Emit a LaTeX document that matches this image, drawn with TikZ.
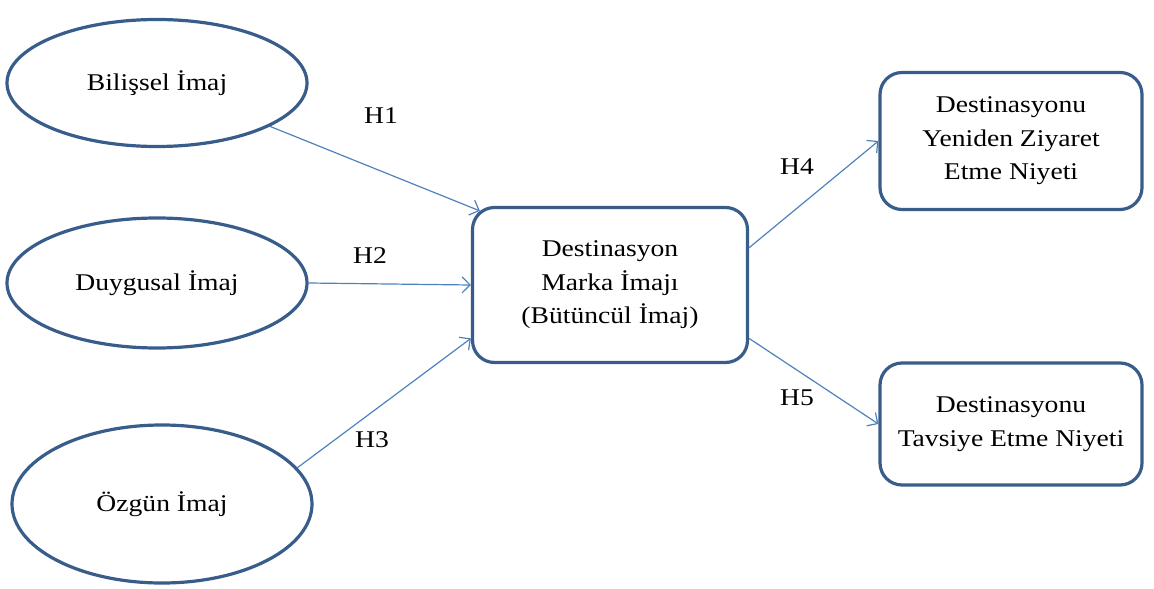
\documentclass[tikz,border=0pt]{standalone}
\usepackage{fontspec}
\setmainfont[FakeStretch=1.15]{Liberation Serif}
\usepackage{tikz}
\usetikzlibrary{arrows.meta,positioning,calc,shapes.geometric}
\definecolor{ramblue}{HTML}{385D8A}
\definecolor{okblue}{HTML}{4F81BD}
\tikzset{
  >={Straight Barb[length=4pt,width=8pt]},
  % boyutlar
  boyut/.style={ellipse,draw=ramblue,line width=1.6pt,fill=white,inner sep=0pt,
                minimum width=150pt,font=\metin},
  kutu/.style={rectangle,rounded corners=11pt,draw=ramblue,line width=1.6pt,fill=white,
               inner sep=0pt,align=center,font=\metin},
  ok/.style={->,draw=okblue,line width=0.6pt},
  hip/.style={inner sep=1pt,font=\metin},
}
\newcommand{\metin}{\fontsize{12}{16.8}\selectfont}

\begin{document}
\begin{tikzpicture}[x=0.5pt,y=-0.5pt]
  \useasboundingbox (0,0) rectangle (1154,588);
  % sol: imaj boyutlari
  \node[boyut,minimum height=63.5pt] (bil) at (157,83) {Bilişsel İmaj};
  \node[boyut,minimum height=65pt] (duy) at (157,283) {Duygusal İmaj};
  \node[boyut,minimum height=79pt] (ozg) at (162,504) {Özgün İmaj};
  % orta ve sag kutular
  \node[kutu,minimum width=137.5pt,minimum height=77.5pt] (mkt) at (610,285)
     {Destinasyon\\Marka İmajı\\(Bütüncül İmaj)};
  \node[kutu,minimum width=131pt,minimum height=68.5pt] (zyr) at (1011,141)
     {Destinasyonu\\Yeniden Ziyaret\\Etme Niyeti};
  \node[kutu,minimum width=131pt,minimum height=61pt] (tvs) at (1011,424)
     {Destinasyonu\\Tavsiye Etme Niyeti};
  % hipotezler
  \draw[ok] (bil.-21) -- ([shift={(9,5)}]mkt.north west);
  \draw[ok] (duy.east) -- (mkt.west);
  \draw[ok] (ozg.15) -- (mkt.-159);
  \draw[ok] (mkt.15) -- (zyr.west);
  \draw[ok] (mkt.-21) -- (tvs.west);
  \node[hip] (h1) at (381,116) {H1};
  \node[hip] (h2) at (370,256) {H2};
  \node[hip] (h3) at (372,440) {H3};
  \node[hip] (h4) at (797,167) {H4};
  \node[hip] (h5) at (797,398) {H5};
\end{tikzpicture}
\end{document}
